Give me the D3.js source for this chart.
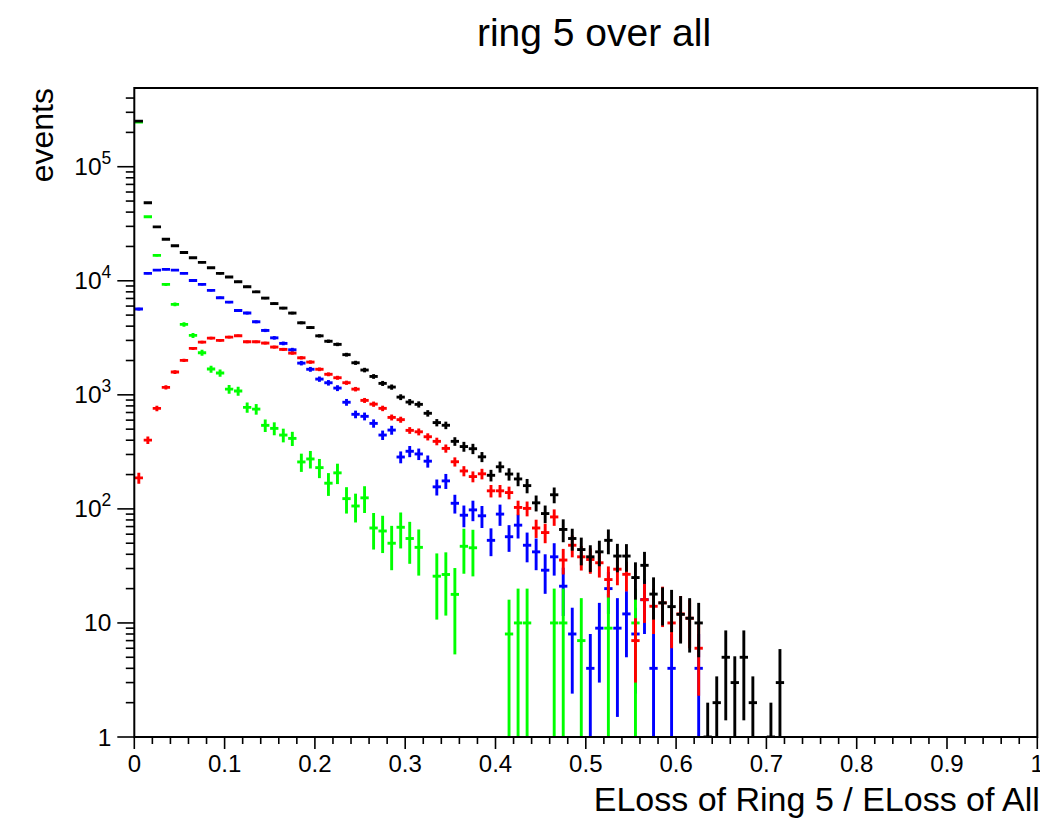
<!DOCTYPE html>
<html>
<head>
<meta charset="utf-8">
<script src="https://cdn.jsdelivr.net/npm/d3@7"></script>
<style>
  body { margin: 0; background: #fff; }
  svg { font-family: "Liberation Sans", Arial, Helvetica, sans-serif; }
</style>
</head>
<body>
<svg id="chart"></svg>
<script>
// histogram binning: 100 bins from 0 to 1
const xMin = 0, xMax = 1, nBins = 100;
const yMin = 1, yMax = 4.9e5;
const xTickValues = [0, 0.1, 0.2, 0.3, 0.4, 0.5, 0.6, 0.7, 0.8, 0.9, 1];
const yDecades = [1, 10, 100, 1000, 10000, 100000];

// bin contents (bin 0 = 0.00-0.01, ...) and their errors
const allValues = [251000, 48300, 29700, 23100, 20300, 17700, 15900, 14500, 13000, 11600,
  10800, 9800, 8860, 8000, 7050, 6310, 5760, 5210, 4280, 3890,
  3290, 2950, 2770, 2250, 1910, 1650, 1450, 1260, 1170, 955,
  864, 825, 689, 571, 541, 391, 352, 337, 286, 197,
  234, 202, 183, 160, 113, 91, 133, 66, 55, 44,
  38, 42, 53, 38.6, 38.6, 25, 32, 17.9, 15, 13.9,
  11.9, 11, 10, 1, 2, 5, 3, 5, 2, 0,
  1, 3];
const allErrors = [1454, 597, 440, 363, 326, 294, 272, 253, 234, 221,
  207, 197, 185, 175, 161, 152, 144, 137, 121, 116,
  106, 100, 98, 86, 79, 76, 69, 64, 62, 56,
  54, 52, 45, 42, 41, 34, 35, 35, 29, 23,
  26, 25, 25, 23, 18, 16, 21, 15, 12, 12,
  10, 10.6, 13, 10.8, 10.5, 9, 10, 7.2, 5.5, 5.6,
  5.3, 5.5, 5, 1, 1.4, 3.6, 2.1, 3.6, 1.4, 0,
  1, 2.9];

const redValues = [187, 401, 761, 1163, 1585, 2006, 2555, 2900, 3145, 3000,
  3207, 3294, 2918, 2918, 2843, 2623, 2503, 2322, 2112, 1937,
  1675, 1514, 1412, 1277, 1122, 894, 829, 761, 634, 606,
  488, 474, 429, 391, 339, 259, 215, 192, 203, 144,
  144, 139, 103, 101, 68, 62, 85, 35.6, 48, 38,
  36, 33.7, 24, 29.6, 26.7, 7, 16, 14, 15, 10,
  12, 11, 6];
const redErrors = [20.7, 30, 42, 52, 60, 68, 77, 82, 85, 83,
  86, 87, 82, 82, 81, 78, 76, 73, 70, 67,
  62, 59, 57, 54, 51, 45, 44, 42, 38, 37,
  33, 33, 31, 30, 28, 24, 22, 21, 21.6, 18,
  18, 17.7, 15, 15, 12.4, 12, 14, 9, 10.4, 9.2,
  9, 8.7, 7.3, 8.2, 7.8, 4, 6, 6, 5.8, 4,
  5.2, 5, 3.7];

const blueValues = [5650, 11600, 12400, 12600, 12400, 11600, 10070, 9290, 8240, 7100,
  6500, 5480, 5210, 4370, 3670, 3160, 2825, 2483, 1897, 1675,
  1374, 1276, 1146, 861, 675, 648, 562, 444, 491, 285,
  320, 303, 262, 156, 176, 112, 88, 98, 87, 53,
  90, 57, 72, 48, 42, 29, 38, 21, 8, 0,
  4, 9, 20, 9, 12, 8, 16, 4, 0, 4,
  0, 0, 4];
const blueErrors = [150, 215, 223, 224, 223, 215, 200, 193, 182, 169,
  161, 148, 144, 132, 121, 112, 106, 100, 87, 82,
  74, 71, 68, 59, 52, 51, 47, 42, 44, 34,
  36, 35, 32, 25, 26.5, 21, 19, 20, 19, 14.5,
  19, 15, 17, 14, 13, 11, 12, 9.5, 5.6, 0,
  4, 6, 8, 7.5, 7, 5.6, 8, 4, 0, 4,
  0, 0, 4];

const greenValues = [246000, 36400, 16700, 9290, 6210, 4150, 3320, 2340, 1683, 1553,
  1122, 1079, 776, 750, 540, 508, 444, 415, 258, 274,
  230, 168, 207, 123, 106, 125, 68, 64, 50, 69,
  55, 46, 0, 25.7, 26.6, 17.8, 47, 45.6, 0, 0,
  0, 8, 10, 10, 0, 0, 10, 10, 0, 7,
  0, 0, 9, 0, 0, 10];
const greenErrors = [1446, 556, 377, 281, 230, 188, 168, 141, 120, 115,
  98, 96, 81, 80, 68, 66, 61, 59, 47, 48,
  44, 38, 42, 32, 30, 33, 24, 23, 21, 24,
  22, 20, 0, 15, 15, 12.5, 20, 20, 0, 0,
  0, 8, 10, 10, 0, 0, 10, 10, 0, 9.5,
  0, 0, 9, 0, 0, 10];

// drawing order as in the original (black drawn last, on top)
const series = [
  { name: "blue", color: "#0000ff", values: blueValues, errors: blueErrors },
  { name: "green", color: "#00ff00", values: greenValues, errors: greenErrors },
  { name: "red", color: "#ff0000", values: redValues, errors: redErrors },
  { name: "all", color: "#000000", values: allValues, errors: allErrors }
];

class Histplot {
  margin = { top: 88, right: 2.7, bottom: 81, left: 134.3 }

  constructor(svg, width = 903, height = 649) {
    this.svg = svg;
    this.width = width;
    this.height = height;
  }

  initialize() {
    this.svg = d3.select(this.svg)
      .attr("width", this.width + this.margin.left + this.margin.right)
      .attr("height", this.height + this.margin.top + this.margin.bottom);

    this.svg.append("defs").append("clipPath").attr("id", "plotclip")
      .append("rect")
      .attr("width", this.width).attr("height", this.height);

    this.container = this.svg.append("g")
      .attr("transform", `translate(${this.margin.left}, ${this.margin.top})`);
    this.marks = this.container.append("g").attr("clip-path", "url(#plotclip)");
    this.xAxis = this.container.append("g");
    this.yAxis = this.container.append("g");

    this.xScale = d3.scaleLinear().domain([xMin, xMax]).range([0, this.width]);
    this.yScale = d3.scaleLog().domain([yMin, yMax]).range([this.height, 0]);
  }

  update(series) {
    const binWidth = (xMax - xMin) / nBins;
    const x = this.xScale, y = this.yScale;
    const half = (x(binWidth) - x(0)) * 0.46;

    series.forEach(s => {
      const pts = s.values
        .map((v, i) => ({ v: v, e: s.errors[i] || 0, c: xMin + (i + 0.5) * binWidth }))
        .filter(d => d.v > 0);
      const g = this.marks.append("g")
        .attr("stroke", s.color)
        .attr("stroke-width", 2.9)
        .attr("fill", "none");
      // vertical error bars
      g.selectAll("line.err").data(pts).join("line")
        .attr("class", "err")
        .attr("x1", d => x(d.c)).attr("x2", d => x(d.c))
        .attr("y1", d => y(d.v + d.e))
        .attr("y2", d => d.v - d.e > yMin * 0.5 ? y(Math.max(d.v - d.e, yMin * 0.5)) : this.height + 5);
      // horizontal bin marks
      g.selectAll("line.bin").data(pts).join("line")
        .attr("class", "bin")
        .attr("x1", d => x(d.c) - half).attr("x2", d => x(d.c) + half)
        .attr("y1", d => y(d.v)).attr("y2", d => y(d.v));
    });

    // frame
    this.container.append("rect")
      .attr("width", this.width).attr("height", this.height)
      .attr("fill", "none").attr("stroke", "#000").attr("stroke-width", 2);

    // x axis: ticks every 0.02, labels every 0.1
    const minorX = d3.range(0, 51).map(k => k * 0.02);
    this.xAxis.attr("transform", `translate(0, ${this.height})`);
    this.xAxis.selectAll("line").data(minorX).join("line")
      .attr("x1", d => x(d)).attr("x2", d => x(d))
      .attr("y1", 0)
      .attr("y2", (d, i) => i % 5 === 0 ? 12 : 7)
      .attr("stroke", "#000").attr("stroke-width", 1.6);
    this.xAxis.selectAll("text").data(xTickValues).join("text")
      .attr("x", d => x(d)).attr("y", 35)
      .attr("text-anchor", "middle")
      .attr("font-size", 24)
      .text(d => (d === 0 || d === 1) ? String(d) : d.toFixed(1));

    // y axis: log ticks
    const minorY = [];
    yDecades.forEach(dec => d3.range(2, 10).forEach(k => {
      if (dec * k <= yMax) minorY.push(dec * k);
    }));
    this.yAxis.selectAll("line.minor").data(minorY).join("line")
      .attr("class", "minor")
      .attr("x1", -8.5).attr("x2", 0)
      .attr("y1", d => y(d)).attr("y2", d => y(d))
      .attr("stroke", "#000").attr("stroke-width", 1.6);
    this.yAxis.selectAll("line.major").data(yDecades).join("line")
      .attr("class", "major")
      .attr("x1", -17).attr("x2", 0)
      .attr("y1", d => y(d)).attr("y2", d => y(d))
      .attr("stroke", "#000").attr("stroke-width", 1.6);
    const labels = this.yAxis.selectAll("text").data(yDecades).join("text")
      .attr("x", -23).attr("y", d => y(d) + 8.5)
      .attr("text-anchor", "end")
      .attr("font-size", 24.5);
    labels.each(function (d) {
      const t = d3.select(this);
      const p = Math.round(Math.log10(d));
      if (p < 2) { t.text(String(d)); return; }
      t.append("tspan").text("10");
      t.append("tspan").attr("dy", -11).attr("font-size", 17.5).text(p);
    });

    // titles
    this.svg.append("text")
      .attr("x", 594).attr("y", 46)
      .attr("text-anchor", "middle").attr("font-size", 39)
      .text("ring 5 over all");
    this.svg.append("text")
      .attr("x", this.margin.left + this.width + 2.5).attr("y", 811)
      .attr("text-anchor", "end").attr("font-size", 34)
      .text("ELoss of Ring 5 / ELoss of All");
    this.svg.append("text")
      .attr("transform", `translate(53, ${this.margin.top}) rotate(-90)`)
      .attr("text-anchor", "end").attr("font-size", 32)
      .text("events");
  }
}

const chart = new Histplot(document.getElementById("chart"));
chart.initialize();
chart.update(series);
</script>
</body>
</html>
